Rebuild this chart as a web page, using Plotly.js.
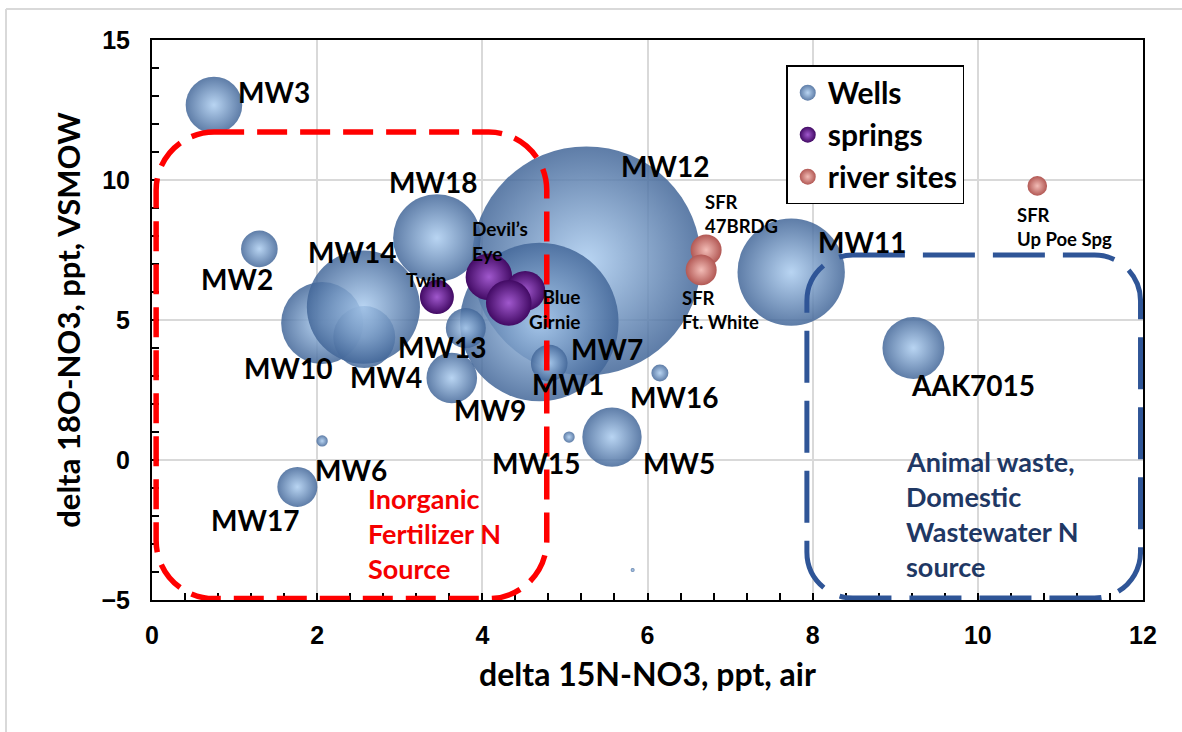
<!DOCTYPE html>
<html>
<head>
<meta charset="utf-8">
<script src="https://cdn.plot.ly/plotly-3.0.1.min.js"></script>
<style>html,body{margin:0;padding:0;background:#fff;}#chart{width:1182px;height:732px;}</style>
</head>
<body>
<div id="chart"></div>
<script>
// ---- data ----
const wellNames = ["MW12","MW7","MW10","MW4","MW14","MW3","MW2","MW18","MW13","MW9","MW1","MW16","MW15","MW5","MW6","MW17","MW11","AAK7015",""];
const wellD15N  = [5.26, 4.69, 2.06, 2.57, 2.56, 0.75, 1.30, 3.45, 3.80, 3.63, 4.81, 6.15, 5.05, 5.57, 2.06, 1.76, 7.74, 9.22, 5.82];
const wellD18O  = [7.11, 4.93, 4.89, 4.39, 5.46, 12.68, 7.54, 7.93, 4.71, 2.93, 3.46, 3.11, 0.82, 0.82, 0.68, -0.96, 6.71, 4.00, -3.93];
const wellSize  = [1640, 785, 210, 120, 400, 100, 42, 240, 50, 80, 42, 9, 4, 110, 4, 50, 360, 120, 0.5];

const springNames = ["Twin","Devil\u2019s<br>Eye","Blue<br>Girnie",""];
const springD15N  = [3.45, 4.08, 4.52, 4.32];
const springD18O  = [5.82, 6.54, 6.04, 5.61];
const springSize  = [36, 68, 50, 65];

const riverNames = ["SFR<br>47BRDG","SFR<br>Ft. White","SFR<br>Up Poe Spg"];
const riverD15N  = [6.71, 6.65, 10.72];
const riverD18O  = [7.50, 6.79, 9.79];
const riverSize  = [30, 30, 12];

const fertText = ["Inorganic","Fertilizer N","Source"];
const wasteText = ["Animal waste,","Domestic","Wastewater N","source"];

// ---- label placement (pixel offsets from each point) ----
const wellLabelOff = {
  "MW12":[79,95],"MW7":[68,-27],"MW10":[-34,-45],"MW4":[22,-40],"MW14":[-11,55],
  "MW3":[60,13],"MW2":[-22,-30],"MW18":[-4,56],"MW13":[-24,-19],"MW9":[38,-32],
  "MW1":[19,-21],"MW16":[14,-24],"MW15":[-33,-26],"MW5":[67,-26],"MW6":[29,-29],
  "MW17":[-42,-33],"MW11":[71,30],"AAK7015":[60,-37]
};
const springLabelOff = [[-10,18,"center"],[-19,36,"left"],[57,-18,"right"],null];
const riverLabelOff = [[-3,36,"left"],[-21,-40,"left"],[-22,-41,"left"]];

const LABEL_FONT = "Lato, 'Open Sans', sans-serif";
const SIZEREF = 0.0625;

function bubble(name, xs, ys, sizes, texts, edge, center, op) {
  return {
    type: "scatter", mode: "markers", name: name,
    x: xs, y: ys, text: texts, legendgroup: name,
    hoverinfo: "text+x+y",
    marker: {
      size: sizes, sizemode: "area", sizeref: SIZEREF, sizemin: 0,
      color: edge, opacity: op,
      gradient: {type: "radial", color: center},
      line: {width: 0}
    }
  };
}

const traces = [
  bubble("Wells", wellD15N, wellD18O, wellSize, wellNames, "rgb(66,102,152)", "rgb(172,205,240)", 0.85),
  bubble("springs", springD15N, springD18O, springSize, springNames, "rgb(66,10,100)", "rgb(160,88,205)", 1),
  bubble("river sites", riverD15N, riverD18O, riverSize, riverNames, "rgb(178,88,84)", "rgb(242,188,182)", 1)
];

const annotations = [];
wellNames.forEach((n, i) => {
  const off = wellLabelOff[n];
  if (!n || !off) return;
  annotations.push({x: wellD15N[i], y: wellD18O[i], xref: "x", yref: "y", text: n, showarrow: false,
    xshift: off[0], yshift: off[1], xanchor: "center", yanchor: "middle",
    font: {family: LABEL_FONT, size: 28, weight: 700, color: "#000"}});
});
springNames.forEach((n, i) => {
  const off = springLabelOff[i];
  if (!n || !off) return;
  annotations.push({x: springD15N[i], y: springD18O[i], xref: "x", yref: "y", text: n, showarrow: false,
    xshift: off[0], yshift: off[1], xanchor: off[2], yanchor: "middle", align: off[2],
    font: {family: LABEL_FONT, size: 19, weight: 700, color: "#000"}});
});
riverNames.forEach((n, i) => {
  const off = riverLabelOff[i];
  annotations.push({x: riverD15N[i], y: riverD18O[i], xref: "x", yref: "y", text: n, showarrow: false,
    xshift: off[0], yshift: off[1], xanchor: off[2], yanchor: "middle", align: "left",
    font: {family: LABEL_FONT, size: 18.5, weight: 700, color: "#000"}});
});
const fertY = [-1.36, -2.61, -3.86];
fertText.forEach((t, i) => annotations.push({x: 2.59, y: fertY[i], xref: "x", yref: "y", text: t, showarrow: false,
  xanchor: "left", yanchor: "middle", font: {family: LABEL_FONT, size: 27, weight: 700, color: "rgb(245,0,0)"}}));
const wasteY = [-0.04, -1.29, -2.54, -3.79];
wasteText.forEach((t, i) => annotations.push({x: 9.11, y: wasteY[i], xref: "x", yref: "y", text: t, showarrow: false,
  xanchor: "left", yanchor: "middle", font: {family: LABEL_FONT, size: 27, weight: 700, color: "#1f3864"}}));

// ---- geometry helpers ----
const W = 1182, H = 732;
const M = {l: 152, r: 39, t: 40, b: 132};
const XR = [0, 12], YR = [-5, 15];
const pxPerX = (W - M.l - M.r) / (XR[1] - XR[0]);
const pxPerY = (H - M.t - M.b) / (YR[1] - YR[0]);

function roundedRect(x0, x1, y0, y1, R) {
  const rx = R / pxPerX, ry = R / pxPerY, k = 0.5523;
  const p = [];
  p.push(`M ${x0 + rx},${y1}`);
  p.push(`L ${x1 - rx},${y1}`);
  p.push(`C ${x1 - rx + k * rx},${y1} ${x1},${y1 - ry + k * ry} ${x1},${y1 - ry}`);
  p.push(`L ${x1},${y0 + ry}`);
  p.push(`C ${x1},${y0 + ry - k * ry} ${x1 - rx + k * rx},${y0} ${x1 - rx},${y0}`);
  p.push(`L ${x0 + rx},${y0}`);
  p.push(`C ${x0 + rx - k * rx},${y0} ${x0},${y0 + ry - k * ry} ${x0},${y0 + ry}`);
  p.push(`L ${x0},${y1 - ry}`);
  p.push(`C ${x0},${y1 - ry + k * ry} ${x0 + rx - k * rx},${y1} ${x0 + rx},${y1}`);
  p.push("Z");
  return p.join(" ");
}

const shapes = [
  {type: "path", xref: "x", yref: "y", layer: "above", path: roundedRect(0.05, 4.78, -4.95, 11.71, 58),
   line: {color: "rgb(255,0,0)", width: 5.5, dash: "30px,13px"}},
  {type: "path", xref: "x", yref: "y", layer: "above", path: roundedRect(7.93, 11.97, -4.93, 7.32, 46),
   line: {color: "rgb(47,85,151)", width: 5, dash: "52px,18px"}},
  // light grey frame (top and left edges)
  {type: "line", xref: "paper", yref: "paper", x0: (6 - M.l) / (W - M.l - M.r), x1: (W - M.l) / (W - M.l - M.r),
   y0: (H - M.b - 9) / (H - M.t - M.b), y1: (H - M.b - 9) / (H - M.t - M.b), line: {color: "#d9d9d9", width: 2}},
  {type: "line", xref: "paper", yref: "paper", x0: (6 - M.l) / (W - M.l - M.r), x1: (6 - M.l) / (W - M.l - M.r),
   y0: (H - M.b - 9) / (H - M.t - M.b), y1: (H - M.b - H) / (H - M.t - M.b), line: {color: "#d9d9d9", width: 2}}
];

const layout = {
  width: W, height: H, margin: M,
  paper_bgcolor: "#fff", plot_bgcolor: "#fff",
  showlegend: true,
  legend: {x: 0.64, y: 0.955, xanchor: "left", yanchor: "top", bgcolor: "#fff",
    bordercolor: "#000", borderwidth: 1.5, tracegroupgap: 0, traceorder: "grouped",
    font: {family: LABEL_FONT, size: 30, weight: 700, color: "#000"}, itemsizing: "trace", itemwidth: 30},
  xaxis: {range: XR, dtick: 2, tick0: 0, showgrid: true, gridcolor: "#d9d9d9", gridwidth: 1.5, zeroline: false,
    showline: true, linecolor: "#000", linewidth: 2, mirror: true,
    ticks: "inside", ticklen: 7, tickwidth: 1.5, tickcolor: "#000",
    minor: {dtick: 0.4, ticks: "inside", ticklen: 7, tickwidth: 1.5, tickcolor: "#000", showgrid: false},
    ticklabelstandoff: 12,
    tickfont: {family: "'Liberation Sans', Arial, sans-serif", size: 25, weight: 700, color: "#000"},
    title: {text: "delta 15N-NO3, ppt, air", standoff: 16,
      font: {family: LABEL_FONT, size: 32, weight: 700, color: "#000"}}},
  yaxis: {range: YR, dtick: 5, tick0: 0, showgrid: true, gridcolor: "#d9d9d9", gridwidth: 1.5, zeroline: false,
    showline: true, linecolor: "#000", linewidth: 2, mirror: true,
    ticks: "inside", ticklen: 7, tickwidth: 1.5, tickcolor: "#000",
    minor: {dtick: 1, ticks: "inside", ticklen: 7, tickwidth: 1.5, tickcolor: "#000", showgrid: false},
    ticklabelstandoff: 15,
    tickfont: {family: "'Liberation Sans', Arial, sans-serif", size: 25, weight: 700, color: "#000"},
    title: {text: "delta 18O-NO3, ppt, VSMOW", standoff: 12,
      font: {family: LABEL_FONT, size: 31, weight: 700, color: "#000"}}},
  shapes: shapes,
  annotations: annotations,
  hovermode: "closest"
};

Plotly.newPlot("chart", traces, layout, {displayModeBar: false});
</script>
</body>
</html>
